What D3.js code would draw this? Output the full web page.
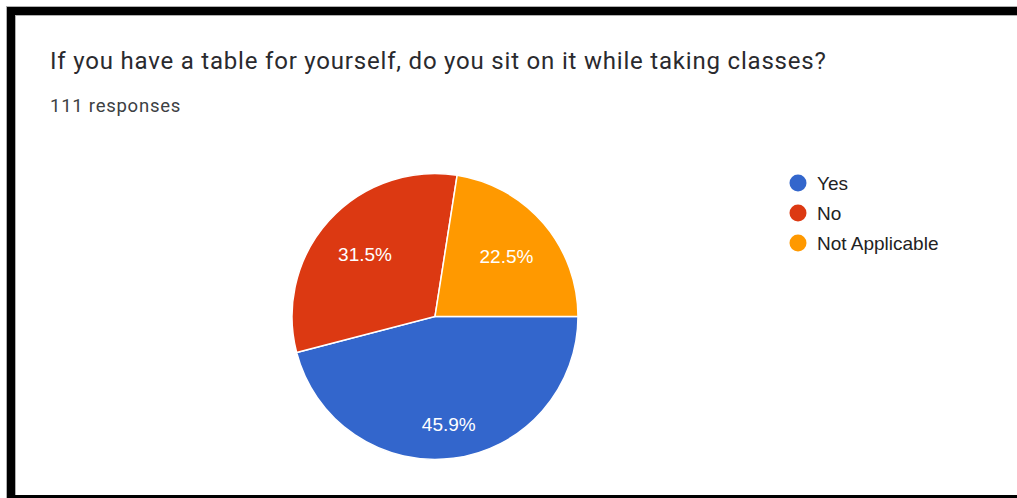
<!DOCTYPE html>
<html>
<head>
<meta charset="utf-8">
<script src="https://cdn.jsdelivr.net/npm/d3@7/dist/d3.min.js"></script>
<style>
  html, body { margin: 0; padding: 0; background: #fff; }
  svg { display: block; }
</style>
</head>
<body>
<svg id="chart" width="1017" height="498"></svg>
<script>
// Survey question and response counts
const title = "If you have a table for yourself, do you sit on it while taking classes?";
const subtitle = "111 responses";
const categories = ["Yes", "No", "Not Applicable"];
const counts = [51, 35, 25];
const colors = ["#3366cc", "#dc3912", "#ff9900"];

const svg = d3.select("#chart");
const W = 1017, H = 498;

// Card frame: thick black rule on top, left and bottom
svg.append("rect").attr("x", 0).attr("y", 0).attr("width", W).attr("height", H).attr("fill", "#fff");
svg.append("rect").attr("x", 6).attr("y", 6).attr("width", W - 6).attr("height", 10).attr("fill", "#b0b0b0");
svg.append("rect").attr("x", 6).attr("y", 6).attr("width", 10).attr("height", H - 6).attr("fill", "#b0b0b0");
svg.append("rect").attr("x", 7).attr("y", 7).attr("width", W - 7).attr("height", 8).attr("fill", "#000");
svg.append("rect").attr("x", 7).attr("y", 7).attr("width", 8).attr("height", H - 7).attr("fill", "#000");
svg.append("rect").attr("x", 7).attr("y", 495).attr("width", W - 7).attr("height", 3).attr("fill", "#000");

// Heading
svg.append("text")
  .attr("x", 50).attr("y", 69)
  .attr("font-family", "Roboto, sans-serif")
  .attr("font-size", 24)
  .attr("letter-spacing", 0.8)
  .attr("fill", "#2a2a2e")
  .text(title);
svg.append("text")
  .attr("x", 50).attr("y", 112)
  .attr("font-family", "Roboto, sans-serif")
  .attr("font-size", 18.5)
  .attr("letter-spacing", 0.75)
  .attr("fill", "#3c4043")
  .text(subtitle);

// Pie
const cx = 435, cy = 316.5, R = 143;
const total = d3.sum(counts);
const data = categories.map((c, i) => ({ name: c, value: counts[i], color: colors[i] }));
const pie = d3.pie().value(d => d.value).sort(null)
  .startAngle(Math.PI / 2).endAngle(Math.PI / 2 + 2 * Math.PI);
const arcs = pie(data);
const arc = d3.arc().innerRadius(0).outerRadius(R);

const g = svg.append("g").attr("transform", `translate(${cx},${cy})`);
g.selectAll("path.slice").data(arcs).join("path")
  .attr("class", "slice")
  .attr("d", arc)
  .attr("fill", d => d.data.color)
  .attr("stroke", "#fff")
  .attr("stroke-width", 1.5);

// Percentage labels: placed along each slice's bisector so the text box
// sits just inside a fixed radius
const fmt = d => (d.data.value / total * 100).toFixed(1) + "%";
const labels = g.selectAll("text.pct").data(arcs).join("text")
  .attr("class", "pct")
  .attr("font-family", "Arial, 'Liberation Sans', sans-serif")
  .attr("font-size", 19)
  .attr("fill", "#fff")
  .attr("text-anchor", "middle")
  .attr("dominant-baseline", "central")
  .text(fmt);
const edge = R * 0.84;
labels.each(function(d) {
  const bb = this.getBBox();
  const a = (d.startAngle + d.endAngle) / 2;
  const sx = Math.sin(a), sy = -Math.cos(a);
  const ext = (bb.width / 2) * Math.abs(sx) + (bb.height / 2 - 2) * Math.abs(sy);
  const r = edge - ext;
  d3.select(this).attr("x", r * sx).attr("y", r * sy + 1);
});

// Legend
const legend = svg.append("g").attr("transform", "translate(798,183)");
const rows = legend.selectAll("g").data(data).join("g")
  .attr("transform", (d, i) => `translate(0,${i * 30})`);
rows.append("circle").attr("r", 8.5).attr("fill", d => d.color);
rows.append("text")
  .attr("x", 19).attr("y", 0)
  .attr("dominant-baseline", "central")
  .attr("font-family", "Arial, 'Liberation Sans', sans-serif")
  .attr("font-size", 19)
  .attr("fill", "#222")
  .text(d => d.name);
</script>
</body>
</html>
